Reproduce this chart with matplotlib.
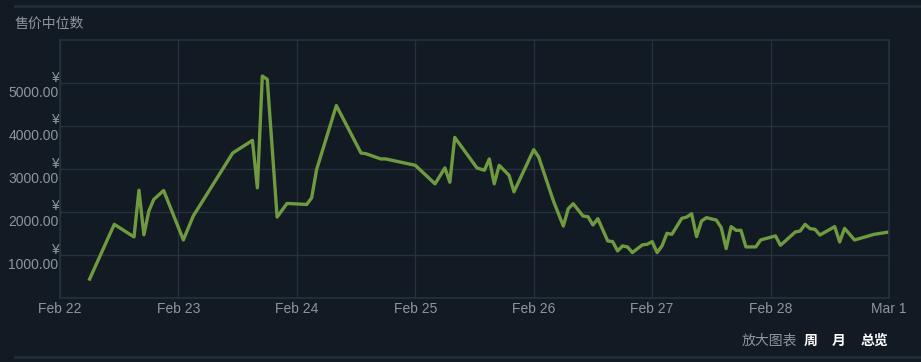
#!/usr/bin/env python3
"""
Steam market style median price chart
"""
import pandas as pd
import matplotlib
matplotlib.use("Agg")
import matplotlib.pyplot as plt
import matplotlib.dates as mdates
from matplotlib.ticker import FixedLocator, FuncFormatter

# sample times (2023, non-leap year) and median price in CNY
times = [
    "02-22 06:00", "02-22 11:00", "02-22 15:00", "02-22 16:00", "02-22 17:00",
    "02-22 18:00", "02-22 19:00", "02-22 21:00", "02-23 01:00", "02-23 03:00",
    "02-23 11:00", "02-23 15:00", "02-23 16:00", "02-23 17:00", "02-23 18:00",
    "02-23 20:00", "02-23 22:00", "02-24 02:00", "02-24 03:00", "02-24 04:00",
    "02-24 08:00", "02-24 13:00", "02-24 14:00", "02-24 17:00", "02-24 18:00",
    "02-25 00:00", "02-25 04:00", "02-25 06:00", "02-25 07:00", "02-25 08:00",
    "02-25 12:30", "02-25 14:00", "02-25 15:00", "02-25 16:00", "02-25 17:00",
    "02-25 19:00", "02-25 20:00", "02-26 00:00", "02-26 01:00", "02-26 04:00",
    "02-26 06:00", "02-26 07:00", "02-26 08:00", "02-26 10:00", "02-26 11:00",
    "02-26 12:00", "02-26 13:00", "02-26 15:00", "02-26 16:00", "02-26 17:00",
    "02-26 18:00", "02-26 19:00", "02-26 20:00", "02-26 22:00", "02-26 23:00",
    "02-27 00:00", "02-27 01:00", "02-27 02:00", "02-27 03:00", "02-27 04:00",
    "02-27 06:00", "02-27 07:00", "02-27 08:00", "02-27 09:00", "02-27 10:00",
    "02-27 11:00", "02-27 13:00", "02-27 14:00", "02-27 15:00", "02-27 16:00",
    "02-27 17:00", "02-27 18:00", "02-27 19:00", "02-27 21:00", "02-27 22:00",
    "02-28 01:00", "02-28 02:00", "02-28 03:00", "02-28 05:00", "02-28 06:00",
    "02-28 07:00", "02-28 08:00", "02-28 09:00", "02-28 10:00", "02-28 13:00",
    "02-28 14:00", "02-28 15:00", "02-28 17:00", "02-28 18:00", "02-28 21:00",
    "03-01 00:00",
]
prices = [
    440, 1713, 1420, 2507, 1470,
    2021, 2292, 2500, 1350, 1906,
    3372, 3665, 2562, 5162, 5085,
    1883, 2199, 2176, 2330, 2986,
    4475, 3372, 3356, 3234, 3234,
    3086, 2655, 3025, 2692, 3734,
    3025, 2970, 3234, 2655, 3086,
    2854, 2469, 3449, 3280, 2255,
    1674, 2076, 2192, 1906, 1890,
    1698, 1844, 1327, 1311, 1095,
    1211, 1188, 1057, 1234, 1250,
    1311, 1057, 1211, 1505, 1481,
    1852, 1882, 1960, 1428, 1789,
    1868, 1813, 1637, 1149, 1660,
    1574, 1574, 1188, 1188, 1350,
    1444, 1227, 1327, 1535, 1558,
    1713, 1613, 1597, 1465, 1660,
    1303, 1620, 1350, 1382, 1481,
    1535,
]
ytick_values = [1000, 2000, 3000, 4000, 5000]
title = "售价中位数"

BG = "#121a23"
GRID = "#26313d"
TEXT = "#8d959d"
LINE = "#6f9a3f"

plt.rcParams['font.family'] = ['Liberation Sans', 'Noto Sans CJK SC', 'DejaVu Sans']

dates = pd.to_datetime(["2023-" + t for t in times])

W, H = 921, 362
fig = plt.figure(figsize=(W / 100, H / 100), dpi=100, facecolor=BG)
ax = fig.add_axes([60 / W, (H - 298) / H, (889 - 60) / W, (298 - 40) / H])
ax.set_facecolor(BG)

ax.plot(dates, prices, color=LINE, lw=2.4, solid_joinstyle='round')

ax.set_xlim(pd.Timestamp("2023-02-22"), pd.Timestamp("2023-03-01"))
ax.set_ylim(0, 6000)

ax.xaxis.set_major_locator(mdates.DayLocator())
ax.xaxis.set_major_formatter(mdates.DateFormatter('%b %-d'))
ax.yaxis.set_major_locator(FixedLocator(ytick_values))
ax.yaxis.set_major_formatter(FuncFormatter(lambda v, p: "¥\n{:.2f}".format(v)))

ax.grid(True, color=GRID, lw=1)
ax.set_axisbelow(True)
for s in ax.spines.values():
    s.set_color(GRID)
    s.set_linewidth(1.2)
ax.tick_params(length=0, colors=TEXT, labelsize=10)
ax.tick_params(axis='y', pad=1)
ax.tick_params(axis='x', pad=3)
for lab in ax.get_yticklabels():
    lab.set_horizontalalignment('right')
    lab.set_multialignment('right')
    lab.set_linespacing(1.1)

# frame lines of the panel
fig.add_artist(plt.Line2D([15 / W, 1], [1 - 6 / H, 1 - 6 / H], color="#232d38", lw=2))
fig.add_artist(plt.Line2D([15 / W, 1], [1 - 357 / H, 1 - 357 / H], color="#232d38", lw=2))

fig.text(15 / W, 1 - 24 / H, title, color=TEXT, fontsize=10, va='center', ha='left')

# zoom controls
fig.text(797 / W, 1 - 341 / H, "放大图表", color=TEXT, fontsize=10, va='center', ha='right')
for txt, x in [("周", 811), ("月", 839), ("总览", 874)]:
    fig.text(x / W, 1 - 341 / H, txt, color="white", fontsize=10, weight='bold',
             va='center', ha='center')

fig.savefig("out.png", dpi=100, facecolor=BG)
